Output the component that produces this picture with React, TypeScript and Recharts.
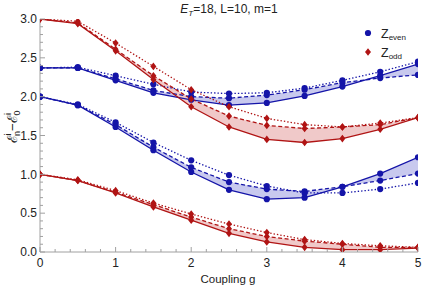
import { ComposedChart, Line, Area, XAxis, YAxis } from 'recharts';

const BLUE = '#1414a8';
const RED = '#b01414';
const BLUE_FILL = '#c8c9ee';
const RED_FILL = '#f0c9c9';
const FRAME = '#a0a0a0';
const FONT = '"Liberation Sans", Arial, sans-serif';

const couplings = [0, 0.5, 1, 1.5, 2, 2.5, 3, 3.5, 4, 4.5, 5];

// upper even level
const evenUpSolid = [2.37, 2.37, 2.21, 2.05, 1.96, 1.89, 1.92, 2.01, 2.13, 2.27, 2.42];
const evenUpDashed = [2.37, 2.37, 2.23, 2.08, 2.0, 1.98, 2.02, 2.09, 2.18, 2.24, 2.28];
const evenUpDotted = [2.37, 2.38, 2.27, 2.16, 2.06, 2.04, 2.05, 2.11, 2.21, 2.32, 2.45];

// upper odd level
const oddUpSolid = [3.0, 2.94, 2.59, 2.22, 1.87, 1.61, 1.45, 1.41, 1.46, 1.58, 1.73];
const oddUpDashed = [3.0, 2.95, 2.61, 2.27, 1.97, 1.75, 1.63, 1.59, 1.61, 1.64, 1.73];
const oddUpDotted = [3.0, 2.97, 2.69, 2.39, 2.09, 1.87, 1.72, 1.64, 1.61, 1.66, 1.73];

// lower even level
const evenLoSolid = [2.0, 1.89, 1.61, 1.31, 1.03, 0.8, 0.68, 0.7, 0.84, 1.01, 1.22];
const evenLoDashed = [2.0, 1.89, 1.64, 1.35, 1.09, 0.9, 0.81, 0.78, 0.84, 0.92, 1.01];
const evenLoDotted = [2.0, 1.9, 1.67, 1.41, 1.18, 0.99, 0.85, 0.76, 0.76, 0.81, 0.89];

// lower odd level
const oddLoSolid = [1.0, 0.92, 0.76, 0.58, 0.41, 0.24, 0.13, 0.06, 0.03, 0.03, 0.05];
const oddLoDashed = [1.0, 0.92, 0.77, 0.61, 0.45, 0.3, 0.2, 0.14, 0.1, 0.06, 0.06];
const oddLoDotted = [1.0, 0.93, 0.79, 0.63, 0.49, 0.36, 0.25, 0.16, 0.11, 0.08, 0.06];

const xMajor = [0, 1, 2, 3, 4, 5];
const yMajor = [0, 0.5, 1, 1.5, 2, 2.5, 3];
const xTicks = Array.from({ length: 26 }, (_, i) => +(i * 0.2).toFixed(1));
const yTicks = Array.from({ length: 31 }, (_, i) => +(i * 0.1).toFixed(1));

const levels = [
  { id: 'eu', kind: 'even', solid: evenUpSolid, dashed: evenUpDashed, dotted: evenUpDotted },
  { id: 'ou', kind: 'odd', solid: oddUpSolid, dashed: oddUpDashed, dotted: oddUpDotted },
  { id: 'el', kind: 'even', solid: evenLoSolid, dashed: evenLoDashed, dotted: evenLoDotted },
  { id: 'ol', kind: 'odd', solid: oddLoSolid, dashed: oddLoDashed, dotted: oddLoDotted },
];

const data = couplings.map((g, i) => {
  const row: Record<string, any> = { g };
  levels.forEach((l) => {
    row[l.id + 'S'] = l.solid[i];
    row[l.id + 'D'] = l.dashed[i];
    row[l.id + 'T'] = l.dotted[i];
    row[l.id + 'Band'] = [l.solid[i], l.dashed[i]];
  });
  return row;
});

const isMajor = (v: number, list: number[]) => list.some((m) => Math.abs(m - v) < 1e-6);

function circleDot(p: any) {
  return <circle key={p.index} cx={p.cx} cy={p.cy} r={3.1} fill={BLUE} />;
}

function diamondDot(p: any) {
  const { cx, cy } = p;
  const w = 3, h = 3.8;
  return (
    <polygon
      key={p.index}
      points={`${cx},${cy - h} ${cx + w},${cy} ${cx},${cy + h} ${cx - w},${cy}`}
      fill={RED}
    />
  );
}

function BottomTick(p: any) {
  const v = p.payload.value;
  const major = isMajor(v, xMajor);
  return (
    <g>
      <line x1={p.x} x2={p.x} y1={p.y} y2={p.y - (major ? 5 : 3)} stroke={FRAME} />
      {major && (
        <text x={p.x} y={p.y + 14.5} textAnchor="middle" fontSize={12} fill="#222" fontFamily={FONT}>
          {v}
        </text>
      )}
    </g>
  );
}

function TopTick(p: any) {
  const major = isMajor(p.payload.value, xMajor);
  return <line x1={p.x} x2={p.x} y1={p.y} y2={p.y + (major ? 5 : 3)} stroke={FRAME} />;
}

function LeftTick(p: any) {
  const v = p.payload.value;
  const major = isMajor(v, yMajor);
  return (
    <g>
      <line x1={p.x} x2={p.x + (major ? 5 : 3)} y1={p.y} y2={p.y} stroke={FRAME} />
      {major && (
        <text x={p.x - 3} y={p.y + 4.3} textAnchor="end" fontSize={12} fill="#222" fontFamily={FONT}>
          {v.toFixed(1)}
        </text>
      )}
    </g>
  );
}

function RightTick(p: any) {
  const major = isMajor(p.payload.value, yMajor);
  return <line x1={p.x} x2={p.x - (major ? 5 : 3)} y1={p.y} y2={p.y} stroke={FRAME} />;
}

export default function App() {
  return (
    <div style={{ position: 'absolute', left: 0, top: 0, width: 438, height: 288, background: '#fff' }}>
      <ComposedChart width={438} height={288} data={data} margin={{ top: 19, right: 20, bottom: 16, left: 10 }}>
        <XAxis
          xAxisId="b"
          dataKey="g"
          type="number"
          domain={[0, 5]}
          ticks={xTicks}
          interval={0}
          allowDataOverflow
          height={20}
          tickSize={0}
          tickMargin={0}
          tickLine={false}
          axisLine={{ stroke: FRAME }}
          tick={BottomTick}
        />
        <XAxis
          xAxisId="t"
          orientation="top"
          dataKey="g"
          type="number"
          domain={[0, 5]}
          ticks={xTicks}
          interval={0}
          allowDataOverflow
          height={0}
          tickSize={0}
          tickMargin={0}
          tickLine={false}
          axisLine={{ stroke: FRAME }}
          tick={TopTick}
        />
        <YAxis
          yAxisId="l"
          type="number"
          domain={[0, 3]}
          ticks={yTicks}
          interval={0}
          allowDataOverflow
          width={30}
          tickSize={0}
          tickMargin={0}
          tickLine={false}
          axisLine={{ stroke: FRAME }}
          tick={LeftTick}
        />
        <YAxis
          yAxisId="r"
          orientation="right"
          type="number"
          domain={[0, 3]}
          ticks={yTicks}
          interval={0}
          allowDataOverflow
          width={0}
          tickSize={0}
          tickMargin={0}
          tickLine={false}
          axisLine={{ stroke: FRAME }}
          tick={RightTick}
        />
        {levels.map((l) => (
          <Area
            key={l.id + 'Band'}
            xAxisId="b"
            yAxisId="l"
            type="linear"
            dataKey={l.id + 'Band'}
            stroke="none"
            fill={l.kind === 'even' ? BLUE_FILL : RED_FILL}
            fillOpacity={1}
            dot={false}
            activeDot={false}
            isAnimationActive={false}
          />
        ))}
        {levels.flatMap((l) => {
          const color = l.kind === 'even' ? BLUE : RED;
          const dot = l.kind === 'even' ? circleDot : diamondDot;
          return [
            ['T', '1.4 2'],
            ['D', '4 2.5'],
            ['S', undefined],
          ].map(([suffix, dash]) => (
            <Line
              key={l.id + suffix}
              xAxisId="b"
              yAxisId="l"
              type="linear"
              dataKey={l.id + suffix}
              stroke={color}
              strokeWidth={1.3}
              strokeDasharray={dash}
              dot={dot}
              activeDot={false}
              isAnimationActive={false}
            />
          ));
        })}
      </ComposedChart>
      <svg
        width={438}
        height={288}
        style={{ position: 'absolute', left: 0, top: 0, pointerEvents: 'none' }}
        fontFamily={FONT}
      >
        <text x={229} y={13} textAnchor="middle" fontSize={12} fill="#222">
          <tspan fontStyle="italic">E</tspan>
          <tspan fontStyle="italic" fontSize={8} dy={3}>T</tspan>
          <tspan dy={-3}>=18, L=10, m=1</tspan>
        </text>
        <text x={228} y={283} textAnchor="middle" fontSize={11.5} fill="#222">
          Coupling g
        </text>
        <text x={17} y={127} textAnchor="middle" fontSize={13.5} fill="#222" transform="rotate(-90, 17, 127)">
          <tspan>ℰ</tspan>
          <tspan fontSize={9} dy={-6}>i</tspan>
          <tspan fontSize={9} dx={-2.5} dy={9}>n</tspan>
          <tspan dy={-3}>−ℰ</tspan>
          <tspan fontSize={9} dy={-6}>i</tspan>
          <tspan fontSize={9} dx={-2.5} dy={9}>0</tspan>
        </text>
        <circle cx={368} cy={33} r={3.1} fill={BLUE} />
        <text x={381} y={37.5} fontSize={12.5} fill="#222">
          Z<tspan fontSize={8} dy={2}>even</tspan>
        </text>
        <polygon points="368,48.2 371,52 368,55.8 365,52" fill={RED} />
        <text x={381} y={57} fontSize={12.5} fill="#222">
          Z<tspan fontSize={8} dy={2}>odd</tspan>
        </text>
      </svg>
    </div>
  );
}
